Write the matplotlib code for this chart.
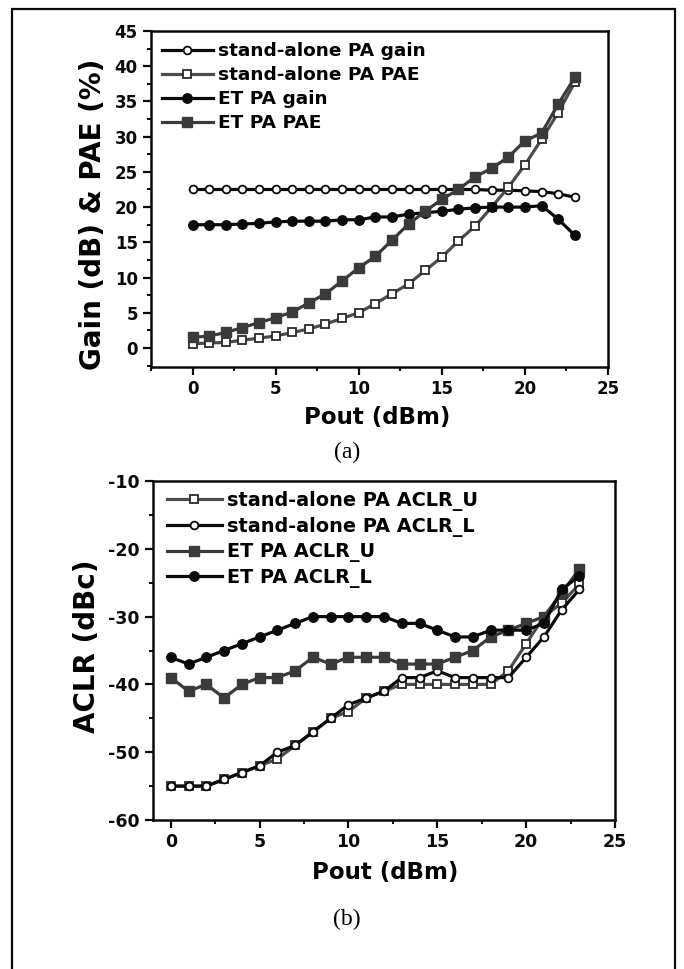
import numpy as np
import matplotlib
matplotlib.use('Agg')
import matplotlib.pyplot as plt
from matplotlib.patches import Rectangle

# ---------------- data ----------------
pout = [0, 1, 2, 3, 4, 5, 6, 7, 8, 9, 10, 11, 12, 13, 14, 15, 16, 17, 18, 19, 20, 21, 22, 23]

# (a) gain / PAE
sa_gain = [22.5, 22.5, 22.5, 22.5, 22.5, 22.5, 22.5, 22.5, 22.5, 22.5, 22.5, 22.5,
           22.5, 22.5, 22.5, 22.5, 22.5, 22.5, 22.4, 22.4, 22.3, 22.2, 21.9, 21.4]
sa_pae = [0.6, 0.7, 0.8, 1.1, 1.4, 1.7, 2.2, 2.7, 3.4, 4.2, 5.0, 6.3,
          7.7, 9.1, 11.0, 12.9, 15.2, 17.3, 20.0, 22.8, 26.0, 29.6, 33.4, 37.7]
et_gain = [17.5, 17.5, 17.5, 17.6, 17.7, 17.9, 18.0, 18.0, 18.0, 18.2, 18.2, 18.6,
           18.6, 19.0, 19.2, 19.4, 19.7, 19.9, 20.0, 20.0, 20.0, 20.2, 18.3, 16.0]
et_pae = [1.5, 1.7, 2.2, 2.9, 3.6, 4.3, 5.1, 6.4, 7.7, 9.5, 11.4, 13.0,
          15.3, 17.6, 19.4, 21.1, 22.5, 24.3, 25.5, 27.1, 29.4, 30.5, 34.6, 38.4]

# (b) ACLR
sa_aclr_u = [-55, -55, -55, -54, -53, -52, -51, -49, -47, -45, -44, -42,
             -41, -40, -40, -40, -40, -40, -40, -38, -34, -30, -28, -25.2]
sa_aclr_l = [-55, -55, -55, -54, -53, -52, -50, -49, -47, -45, -43, -42,
             -41, -39, -39, -38, -39, -39, -39, -39, -36, -33, -29, -26]
et_aclr_u = [-39, -41, -40, -42, -40, -39, -39, -38, -36, -37, -36, -36,
             -36, -37, -37, -37, -36, -35, -33, -32, -31, -30, -26.5, -23]
et_aclr_l = [-36, -37, -36, -35, -34, -33, -32, -31, -30, -30, -30, -30,
             -30, -31, -31, -32, -33, -33, -32, -32, -32, -31, -26, -24]

W, H = 684, 969
plt.rcParams['font.family'] = 'DejaVu Sans'
plt.rcParams['font.weight'] = 'bold'
plt.rcParams['axes.unicode_minus'] = False
fig = plt.figure(figsize=(W / 100, H / 100), dpi=100)

black = '#0a0a0a'
dgrey = '#3a3a3a'
lgrey = '#4c4c4c'
lw = 2.3


def px_axes(x0, y0, x1, y1):
    # pixel box (left, top, right, bottom) -> figure fraction
    return fig.add_axes([x0 / W, 1 - y1 / H, (x1 - x0) / W, (y1 - y0) / H])


def style_axes(ax, tick_fs):
    for s in ax.spines.values():
        s.set_linewidth(1.8)
        s.set_color(black)
    ax.tick_params(which='major', direction='out', length=5.5, width=1.6,
                   labelsize=tick_fs, pad=4, colors=black)
    ax.tick_params(which='minor', direction='out', length=3, width=1.4, colors=black)
    ax.tick_params(top=False, right=False, which='both')
    for lab in ax.get_xticklabels() + ax.get_yticklabels():
        lab.set_fontweight('bold')


"-------------------------------- (a) Gain & PAE ----------------------------------"
ax1 = px_axes(151, 31, 608, 367)
ax1.plot(pout, sa_gain, color=black, lw=lw, marker='o', ms=5.6, mfc='white',
         mec=black, mew=1.3, label='stand-alone PA gain')
ax1.plot(pout, sa_pae, color=lgrey, lw=lw, marker='s', ms=5.6, mfc='white',
         mec='#2a2a2a', mew=1.3, label='stand-alone PA PAE')
ax1.plot(pout, et_gain, color=black, lw=lw, marker='o', ms=6.8, mfc=black,
         mec=black, label='ET PA gain')
ax1.plot(pout, et_pae, color=dgrey, lw=lw, marker='s', ms=6.8, mfc=dgrey,
         mec=dgrey, label='ET PA PAE')
ax1.set_xlim(-2.4, 25)
ax1.set_ylim(-2.7, 45)
ax1.set_xticks([0, 5, 10, 15, 20, 25])
ax1.set_xticks([-2.5, 2.5, 7.5, 12.5, 17.5, 22.5], minor=True)
ax1.set_yticks([0, 5, 10, 15, 20, 25, 30, 35, 40, 45])
ax1.set_yticks([-2.5, 2.5, 7.5, 12.5, 17.5, 22.5, 27.5, 32.5, 37.5, 42.5], minor=True)
style_axes(ax1, 12)
ax1.set_xlabel('Pout (dBm)', fontsize=16.5, fontweight='bold')
ax1.xaxis.set_label_coords(0.496, -0.149)
ax1.xaxis.label.set_va('center')
ax1.set_ylabel('Gain (dB) & PAE (%)', fontsize=20, fontweight='bold')
ax1.yaxis.set_label_coords(-0.128, 0.455)
ax1.yaxis.label.set_va('center')
ax1.legend(loc='upper left', bbox_to_anchor=(0.024, 0.967), frameon=False,
           borderpad=0, borderaxespad=0, handlelength=2.76, handletextpad=0.27,
           labelspacing=0.33, prop={'size': 13.3, 'weight': 'bold'})

"-------------------------------- (b) ACLR ----------------------------------------"
ax2 = px_axes(153, 481, 615, 820)
ax2.plot(pout, sa_aclr_u, color=lgrey, lw=lw, marker='s', ms=5.6, mfc='white',
         mec='#2a2a2a', mew=1.3, label='stand-alone PA ACLR_U')
ax2.plot(pout, sa_aclr_l, color=black, lw=lw, marker='o', ms=5.6, mfc='white',
         mec=black, mew=1.3, label='stand-alone PA ACLR_L')
ax2.plot(pout, et_aclr_u, color=dgrey, lw=lw, marker='s', ms=6.8, mfc=dgrey,
         mec=dgrey, label='ET PA ACLR_U')
ax2.plot(pout, et_aclr_l, color=black, lw=lw, marker='o', ms=6.8, mfc=black,
         mec=black, label='ET PA ACLR_L')
ax2.set_xlim(-1, 25)
ax2.set_ylim(-60, -10)
ax2.set_xticks([0, 5, 10, 15, 20, 25])
ax2.set_xticks([2.5, 7.5, 12.5, 17.5, 22.5], minor=True)
ax2.set_yticks([-60, -50, -40, -30, -20, -10])
ax2.set_yticks([-55, -45, -35, -25, -15], minor=True)
style_axes(ax2, 12.5)
ax2.set_xlabel('Pout (dBm)', fontsize=16.5, fontweight='bold')
ax2.xaxis.set_label_coords((385 - 153) / 462, (820 - 873) / 339)
ax2.xaxis.label.set_va('center')
ax2.set_ylabel('ACLR (dBc)', fontsize=20, fontweight='bold')
ax2.yaxis.set_label_coords(-0.143, 0.513)
ax2.yaxis.label.set_va('center')
ax2.legend(loc='upper left', bbox_to_anchor=(0.030, 0.971), frameon=False,
           borderpad=0, borderaxespad=0, handlelength=2.85, handletextpad=0.25,
           labelspacing=0.3, prop={'size': 13.9, 'weight': 'bold'})

# captions
fig.text(347 / W, 1 - 452 / H, '(a)', family='Liberation Serif', fontweight='normal',
         fontsize=17, ha='center', va='center')
fig.text(347 / W, 1 - 919 / H, '(b)', family='Liberation Serif', fontweight='normal',
         fontsize=17, ha='center', va='center')

# outer frame (open at the bottom of the crop)
fig.add_artist(Rectangle((12 / W, -0.1), (675 - 12) / W, 1 - 9 / H + 0.1, fill=False,
                         lw=1.6, ec=black, transform=fig.transFigure, clip_on=False))

fig.savefig('out.png', dpi=100)
